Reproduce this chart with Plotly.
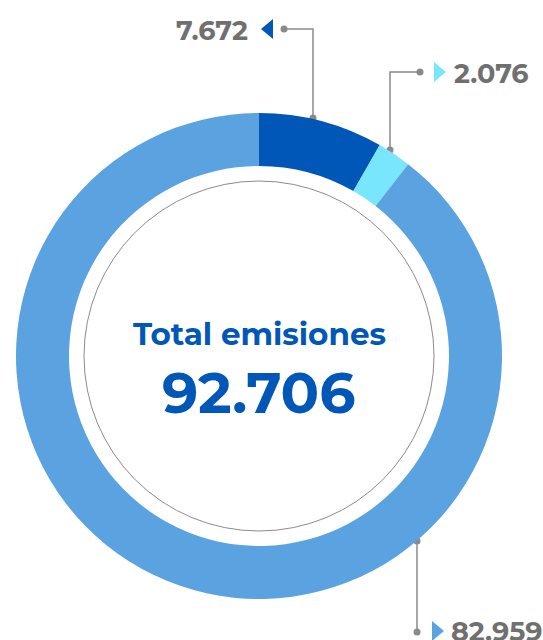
import plotly.graph_objects as go

# Data
labels = ["Segmento A", "Segmento B", "Segmento C"]
values = [7.672, 2.076, 82.959]
value_labels = ["7.672", "2.076", "82.959"]
colors = ["#0057B8", "#78E6FC", "#5AA3E0"]
total_label = "92.706"
title_label = "Total emisiones"

W, H = 543, 640
cx, cy, R = 259, 356, 243
hole = 190 / 243

fig = go.Figure()
fig.add_trace(go.Pie(
    labels=labels, values=values, sort=False, direction="clockwise", rotation=0,
    hole=hole, marker=dict(colors=colors, line=dict(width=0)),
    textinfo="none", hoverinfo="label+value", showlegend=False,
    domain=dict(x=[(cx - R) / W, (cx + R) / W], y=[1 - (cy + R) / H, 1 - (cy - R) / H]),
))

grey = "#8a8a8a"
label_color = "#707070"

callouts = [
    dict(path=[(313, 118), (313, 29), (284, 29)], tri=(273, 29, "left"), text_x=250, text_y=30, anchor="right"),
    dict(path=[(390, 150), (390, 72), (420, 72)], tri=(434, 72, "right"), text_x=452, text_y=73, anchor="left"),
    dict(path=[(417, 541), (417, 632)], tri=(432, 631, "right"), text_x=449, text_y=631, anchor="left"),
]

shapes = []
dot_x, dot_y = [], []
for i, c in enumerate(callouts):
    pts = c["path"]
    d = "M " + " L ".join(f"{x},{y}" for x, y in pts)
    shapes.append(dict(type="path", path=d, xref="x", yref="y", line=dict(color=grey, width=1.5)))
    dot_x += [pts[0][0], pts[-1][0]]
    dot_y += [pts[0][1], pts[-1][1]]
    tx, ty, side = c["tri"]
    if side == "left":
        tp = f"M {tx},{ty-10} L {tx-12},{ty} L {tx},{ty+10} Z"
    else:
        tp = f"M {tx},{ty-10} L {tx+12},{ty} L {tx},{ty+10} Z"
    shapes.append(dict(type="path", path=tp, xref="x", yref="y", fillcolor=colors[i], line=dict(width=0)))
    fig.add_annotation(x=c["text_x"], y=c["text_y"], xref="x", yref="y", text=f"<b>{value_labels[i]}</b>",
                       showarrow=False, xanchor=c["anchor"], yanchor="middle",
                       font=dict(family="Montserrat, Lato, Open Sans", size=27, color=label_color))

r2 = 175
shapes.append(dict(type="circle", xref="x", yref="y", x0=cx - r2, x1=cx + r2, y0=cy - r2, y1=cy + r2,
                   line=dict(color="#8c8c8c", width=1)))

fig.add_trace(go.Scatter(x=dot_x, y=dot_y, mode="markers", marker=dict(color=grey, size=7),
                         hoverinfo="skip", showlegend=False))

fig.add_annotation(x=cx, y=334, xref="x", yref="y", text="<b>" + title_label + "</b>", showarrow=False,
                   font=dict(family="Montserrat, Lato, Open Sans", size=31, color="#0057B8"), yanchor="middle")
fig.add_annotation(x=cx, y=392, xref="x", yref="y", text="<b>" + total_label + "</b>", showarrow=False,
                   font=dict(family="Montserrat, Lato, Open Sans", size=57, color="#0057B8"), yanchor="middle")

fig.update_layout(
    width=W, height=H, margin=dict(l=0, r=0, t=0, b=0),
    paper_bgcolor="white", plot_bgcolor="rgba(0,0,0,0)",
    xaxis=dict(range=[0, W], visible=False, fixedrange=True, domain=[0, 1]),
    yaxis=dict(range=[H, 0], visible=False, fixedrange=True, domain=[0, 1]),
    shapes=shapes,
)
fig.write_html("out.html", config={"displayModeBar": False})

with open("out.html", encoding="utf-8") as f:
    html = f.read()
html = html.replace("<body>", '<body style="margin:0;padding:0;overflow:hidden">', 1)
with open("out.html", "w", encoding="utf-8") as f:
    f.write(html)
